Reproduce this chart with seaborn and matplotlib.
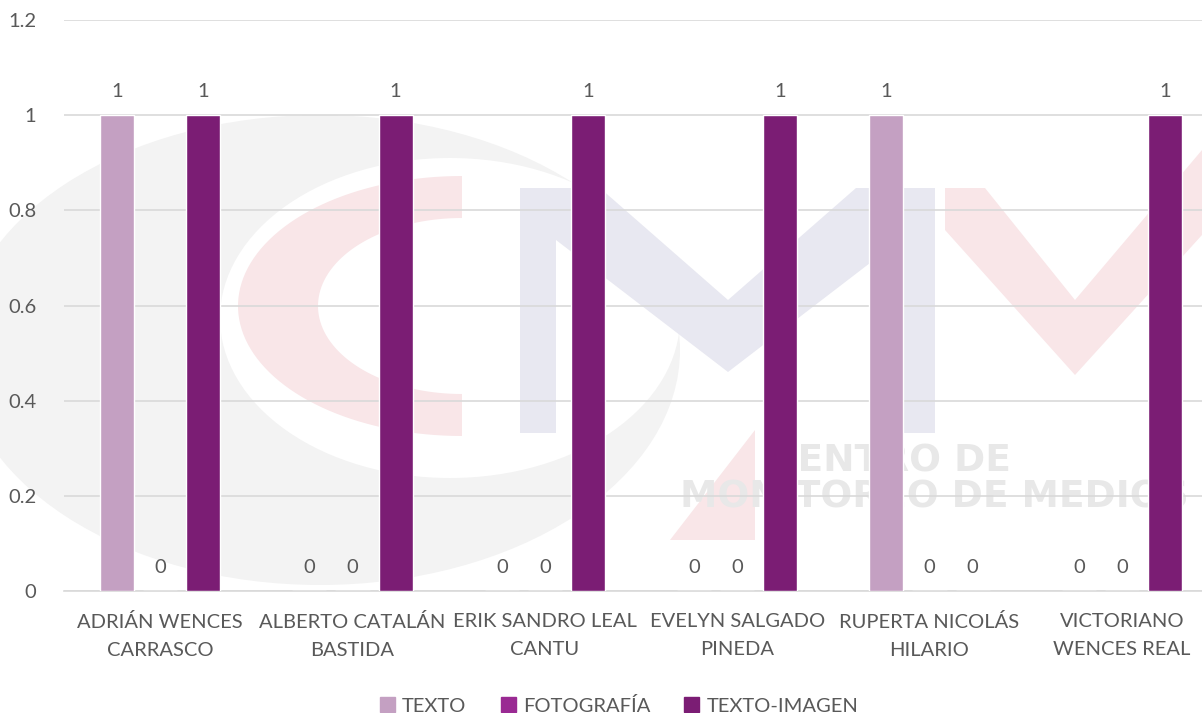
import numpy as np
import pandas as pd
import matplotlib
matplotlib.use("Agg")
import matplotlib.pyplot as plt
from matplotlib.patches import Polygon, Ellipse
import seaborn as sns

# --- datos ---
NOMBRES = [
    "ADRIÁN WENCES\nCARRASCO",
    "ALBERTO CATALÁN\nBASTIDA",
    "ERIK SANDRO LEAL\nCANTU",
    "EVELYN SALGADO\nPINEDA",
    "RUPERTA NICOLÁS\nHILARIO",
    "VICTORIANO\nWENCES REAL",
]
SERIES = ["TEXTO", "FOTOGRAFÍA", "TEXTO-IMAGEN"]
TEXTO = [1, 0, 0, 0, 1, 0]
FOTOGRAFIA = [0, 0, 0, 0, 0, 0]
TEXTO_IMAGEN = [1, 1, 1, 1, 0, 1]
COLORES = ["#C4A0C2", "#9A2A93", "#7B1D74"]
Y_TICKS = [0, 0.2, 0.4, 0.6, 0.8, 1, 1.2]
Y_TICK_LABELS = ["0", "0.2", "0.4", "0.6", "0.8", "1", "1.2"]

GRIS_TEXTO = "#595959"
GRIS_LINEA = "#D9D9D9"
TAM = 14.5

df = pd.DataFrame({
    "Nombre": NOMBRES * 3,
    "Tipo": [SERIES[0]] * 6 + [SERIES[1]] * 6 + [SERIES[2]] * 6,
    "Valor": TEXTO + FOTOGRAFIA + TEXTO_IMAGEN,
})

sns.set_theme(style="white")
plt.rcParams["font.family"] = ["Lato", "DejaVu Sans"]

fig = plt.figure(figsize=(12.02, 7.13), dpi=100)

# --- marca de agua (logo tenue de fondo) ---
bg = fig.add_axes([0, 0, 1, 1], zorder=0)
bg.set_xlim(0, 1202)
bg.set_ylim(713, 0)
bg.axis("off")

ROSA = "#F9E6E8"
AZUL = "#E8E8F1"
GRIS = "#F3F3F3"

bg.add_patch(Ellipse((320, 350), 720, 470, color=GRIS, lw=0))
bg.add_patch(Ellipse((450, 318), 460, 320, color="white", lw=0))

# la "C" rosa: media elipse anular
t = np.linspace(np.pi / 2, 3 * np.pi / 2, 80)
ext = np.column_stack([462 + 224 * np.cos(t), 306 - 130 * np.sin(t)])
inn = np.column_stack([462 + 144 * np.cos(t[::-1]), 306 - 88 * np.sin(t[::-1])])
bg.add_patch(Polygon(np.vstack([ext, inn]), closed=True, color=ROSA, lw=0))

# la "M" azulada
bg.add_patch(Polygon([(520, 188), (600, 188), (728, 300), (856, 188), (935, 188),
                      (935, 433), (900, 433), (900, 240), (728, 372), (556, 240),
                      (556, 433), (520, 433)], closed=True, color=AZUL, lw=0))
# la segunda "M" rosa (chevron)
bg.add_patch(Polygon([(945, 188), (985, 188), (1075, 300), (1202, 150), (1202, 235),
                      (1075, 375), (945, 230)], closed=True, color=ROSA, lw=0))
bg.add_patch(Polygon([(755, 430), (755, 540), (670, 540)], closed=True, color=ROSA, lw=0))
bg.text(770, 462, "CENTRO DE", fontsize=27, fontweight="bold", color="#E8E8E8",
        va="center", ha="left", family="DejaVu Sans")
bg.text(680, 497, "MONITOREO DE MEDIOS", fontsize=27, fontweight="bold", color="#E8E8E8",
        va="center", ha="left", family="DejaVu Sans")

# --- grafica principal ---
ax = fig.add_axes([64 / 1202, 122 / 713, 1154 / 1202, 571 / 713], zorder=1)
ax.set_facecolor("none")

sns.barplot(data=df, x="Nombre", y="Valor", hue="Tipo", hue_order=SERIES,
            palette=COLORES, width=0.672, gap=0.21, saturation=1,
            errorbar=None, legend=False, ax=ax, zorder=3)

for cont in ax.containers:
    ax.bar_label(cont, fmt="%g", padding=11, fontsize=TAM, color=GRIS_TEXTO)

ax.set_ylim(0, 1.2)
ax.set_xlim(-0.5, len(NOMBRES) - 0.5)
ax.set_yticks(Y_TICKS)
ax.set_yticklabels(Y_TICK_LABELS)
ax.yaxis.grid(True, color=GRIS_LINEA, lw=1.2, zorder=0)
ax.set_axisbelow(True)
ax.set_xlabel("")
ax.set_ylabel("")
sns.despine(ax=ax, left=True, top=True, right=True)
ax.spines["bottom"].set_color(GRIS_LINEA)
ax.spines["bottom"].set_linewidth(1.2)
ax.tick_params(axis="y", length=0, pad=20, labelsize=TAM, labelcolor=GRIS_TEXTO)
ax.tick_params(axis="x", length=0, pad=16, labelsize=TAM, labelcolor=GRIS_TEXTO)
for lbl in ax.get_xticklabels():
    lbl.set_linespacing(1.8)

# leyenda
handles = [plt.Rectangle((0, 0), 1, 1, color=c) for c in COLORES]
fig.legend(handles, SERIES, loc="lower center", bbox_to_anchor=(0.515, -0.028), ncol=3,
           frameon=False, fontsize=TAM, labelcolor=GRIS_TEXTO, handlelength=0.75,
           handleheight=0.75, handletextpad=0.35, columnspacing=1.7)

fig.savefig("out.png", dpi=100)
